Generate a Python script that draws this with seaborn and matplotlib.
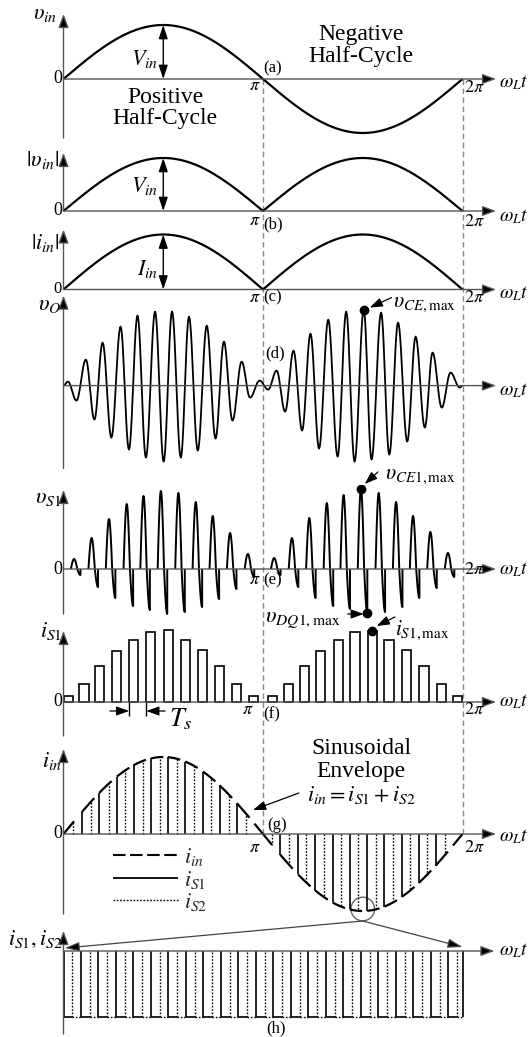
import numpy as np
import pandas as pd
import matplotlib
matplotlib.use("Agg")
import matplotlib.pyplot as plt
import seaborn as sns
from matplotlib.patches import Ellipse
from matplotlib.lines import Line2D

sns.set_theme(style="white")
plt.rcParams["font.family"] = ["Liberation Serif", "DejaVu Serif"]
plt.rcParams["mathtext.fontset"] = "stix"
plt.rcParams["lines.solid_capstyle"] = "butt"

PI = np.pi

# ---------------- waveform data (angles in units of pi) ----------------
V_in_peak = 54.0        # (a) input voltage amplitude
V_rect_peak = 53.0      # (b) rectified input voltage amplitude
I_in_peak = 55.0        # (c) rectified input current amplitude
I_env_peak = 77.0       # (g) sinusoidal envelope of i_in

# (d) successive extrema of the resonant output voltage v_O
vO_pos = [0.0, 0.022, 0.065, 0.112, 0.155, 0.196, 0.240, 0.286, 0.328, 0.371, 0.413,
          0.459, 0.502, 0.544, 0.588, 0.629, 0.673, 0.718, 0.762, 0.804, 0.847, 0.893,
          0.935, 0.983, 1.026, 1.068, 1.111, 1.153, 1.196, 1.238, 1.281, 1.327, 1.374,
          1.417, 1.459, 1.505, 1.544, 1.592, 1.633, 1.677, 1.723, 1.765, 1.811, 1.850,
          1.896, 1.940, 1.986, 2.0]
vO_val = [0, 4, -15, 26, -34, 43, -52, 59, -64, 70, -72, 74, -76, 74, -72, 69, -65, 60,
          -53, 44, -35, 24, -12, 5, -4, 15, -26, 35, -45, 52, -63, 66, -71, 74, -76, 76,
          -74, 73, -69, 63, -56, 49, -42, 33, -22, 13, -2, 0]

# (e) switch voltage v_S1: one lobe per switching period
vS1_start = [0.037, 0.125, 0.212, 0.301, 0.385, 0.472, 0.560, 0.647, 0.732, 0.819, 0.908,
             1.040, 1.129, 1.216, 1.304, 1.388, 1.475, 1.564, 1.651, 1.736, 1.823, 1.911]
vS1_peak = [10, 31, 50, 65, 73, 78, 76, 67, 53, 36, 15,
            11, 31, 51, 66, 74, 80, 76, 67, 53, 37, 16]
vS1_trough = [6, 18, 29, 37, 41, 45, 43, 38, 30, 20, 8,
              6, 18, 29, 37, 40, 44, 43, 38, 29, 19, 8]
vS1_width = 0.048

# (f) switch current pulses i_S1
iS1_start = [0.0, 0.080, 0.157, 0.244, 0.329, 0.415, 0.502, 0.587, 0.672, 0.759, 0.844, 0.930,
             1.023, 1.104, 1.187, 1.266, 1.355, 1.438, 1.525, 1.609, 1.697, 1.784, 1.870, 1.953]
iS1_height = [6, 18, 36, 51, 62, 70, 72, 62, 52, 36, 18, 6,
              6, 18, 36, 51, 62, 70, 71, 62, 52, 36, 18, 6]
iS1_width = 0.046

# (g) conduction instants of the two switches
gS1_pos = [0.092, 0.179, 0.268, 0.351, 0.438, 0.523, 0.610, 0.699, 0.783, 0.870,
           1.087, 1.176, 1.263, 1.349, 1.435, 1.522, 1.609, 1.697, 1.781, 1.865]
gS2_pos = [0.050, 0.137, 0.226, 0.309, 0.396, 0.482, 0.569, 0.652, 0.741, 0.828, 0.916,
           1.045, 1.132, 1.217, 1.304, 1.391, 1.477, 1.567, 1.652, 1.739, 1.823, 1.910]

# (h) magnified view near the negative peak
h_period = 0.0877
h_count = 23
h_end = 2.005
h_depth = 66.0

# ---------------- layout ----------------
W, H = 529, 1037
X0, PI_PX = 63.5, 199.5
XL = -X0 / PI_PX * PI
XR = (W - X0) / PI_PX * PI
X_TIP = 2.168 * PI          # tip of horizontal axis arrows

AX_C = "#555555"
fig = plt.figure(figsize=(W / 100, H / 100), dpi=100)
fig.patch.set_facecolor("white")

over = fig.add_axes([0, 0, 1, 1])
over.set_xlim(XL, XR)
over.set_ylim(H, 0)
over.axis("off")


def panel(top, bottom, base):
    ax = fig.add_axes([0, 1 - bottom / H, 1, (bottom - top) / H])
    ax.set_xlim(XL, XR)
    ax.set_ylim(base - bottom, base - top)
    ax.axis("off")
    ax.patch.set_alpha(0)
    return ax


def arrows(ax, ybot, ytop, xtip=X_TIP):
    st = "-|>,head_length=0.75,head_width=0.28"
    kw = dict(arrowstyle=st, color=AX_C, lw=1.0, mutation_scale=11,
              shrinkA=0, shrinkB=0)
    ax.annotate("", xy=(xtip, 0), xytext=(0, 0), annotation_clip=False,
                arrowprops=dict(fc="black", **kw))
    ax.annotate("", xy=(0, ytop), xytext=(0, ybot), annotation_clip=False,
                arrowprops=dict(fc="black", **kw))


def label(ax, x, y, s, size=16, ha="center", va="center", **kw):
    ax.text(x * PI, y, s, fontsize=size, ha=ha, va=va, color="black", **kw)


def omega(ax, y):
    label(ax, 2.185, y, r"$\omega_L t$", size=14, ha="left")


def dbl_arrow(ax, x, y0, y1):
    ax.annotate("", xy=(x * PI, y1), xytext=(x * PI, y0), annotation_clip=False,
                arrowprops=dict(arrowstyle="<|-|>,head_length=0.75,head_width=0.25",
                                color="black", lw=1.0, mutation_scale=11,
                                shrinkA=0, shrinkB=0))


def ann(ax, xy_from, xy_to):
    ax.annotate("", xy=(xy_to[0] * PI, xy_to[1]), xytext=(xy_from[0] * PI, xy_from[1]),
                annotation_clip=False,
                arrowprops=dict(arrowstyle="-|>,head_length=0.7,head_width=0.25",
                                color="black", lw=0.9, mutation_scale=11,
                                shrinkA=0, shrinkB=0))


theta = np.linspace(0, 2 * PI, 800)

# dashed guides at pi and 2pi
for xg in (PI, 2 * PI):
    over.plot([xg, xg], [79, 834], color="#8a8a8a", lw=1.0, dashes=(4, 2.5))

# ---------- (a) ----------
ax = panel(5, 142, 79)
arrows(ax, -59, 65)
sns.lineplot(x=theta, y=V_in_peak * np.sin(theta), ax=ax, color="black", lw=1.6)
dbl_arrow(ax, 0.5, 0, V_in_peak)
label(ax, -0.032, 64, r"$\upsilon_{in}$", ha="right")
label(ax, -0.008, 0, "0", size=13, ha="right")
label(ax, 0.477, 20, r"$V_{in}$", ha="right")
label(ax, 1.0, 11, "(a)", size=12, ha="left")
label(ax, 1.49, 44, "Negative", size=17)
label(ax, 1.49, 22, "Half-Cycle", size=17)
label(ax, 0.51, -19, "Positive", size=17)
label(ax, 0.51, -40, "Half-Cycle", size=17)
label(ax, 0.99, -7, r"$\pi$", size=13, ha="right")
label(ax, 2.007, -9, r"$2\pi$", size=13, ha="left")
omega(ax, -4)

# ---------- (b) ----------
ax = panel(145, 230, 211)
arrows(ax, 0, 58)
sns.lineplot(x=theta, y=V_rect_peak * np.abs(np.sin(theta)), ax=ax, color="black", lw=1.6)
dbl_arrow(ax, 0.5, 0, V_rect_peak)
label(ax, -0.02, 51, r"$|\upsilon_{in}|$", ha="right")
label(ax, -0.008, 0, "0", size=13, ha="right")
label(ax, 0.477, 25, r"$V_{in}$", ha="right")
label(ax, 0.99, -10, r"$\pi$", size=13, ha="right")
label(ax, 1.0, -13, "(b)", size=12, ha="left")
label(ax, 2.007, -11, r"$2\pi$", size=13, ha="left")
omega(ax, -6)

# ---------- (c) ----------
ax = panel(225, 305, 289.5)
arrows(ax, 0, 60)
sns.lineplot(x=theta, y=I_in_peak * np.abs(np.sin(theta)), ax=ax, color="black", lw=1.6)
dbl_arrow(ax, 0.5, 0, I_in_peak)
label(ax, -0.02, 47, r"$|i_{in}|$", ha="right")
label(ax, -0.008, 1, "0", size=12, ha="right")
label(ax, 0.477, 21, r"$I_{in}$", ha="right")
label(ax, 0.99, -8, r"$\pi$", size=13, ha="right")
label(ax, 1.0, -8, "(c)", size=12, ha="left")
label(ax, 2.007, -8, r"$2\pi$", size=13, ha="left")
omega(ax, -4)

# ---------- (d) ----------
ax = panel(290, 470, 385.6)
arrows(ax, -83, 90)
xs, ys = [], []
for k in range(len(vO_pos) - 1):
    t = np.linspace(0, 1, 14)[:-1]
    xs.append(vO_pos[k] + t * (vO_pos[k + 1] - vO_pos[k]))
    ys.append(vO_val[k] + (vO_val[k + 1] - vO_val[k]) * (1 - np.cos(PI * t)) / 2)
xs.append([vO_pos[-1]]); ys.append([vO_val[-1]])
vO = pd.DataFrame({"x": np.concatenate(xs) * PI, "y": np.concatenate(ys)})
sns.lineplot(data=vO, x="x", y="y", ax=ax, color="black", lw=1.3, sort=False, estimator=None)
i_max = int(np.argmax(vO_val))
ax.plot(vO_pos[i_max] * PI, vO_val[i_max], "o", color="black", ms=6)
label(ax, -0.012, 80, r"$\upsilon_O$", ha="right")
label(ax, 1.01, 32, "(d)", size=12, ha="left")
label(ax, 1.652, 81, r"$\upsilon_{CE,\mathrm{max}}$", size=15.5, ha="left")
ann(ax, (1.644, 88), (1.535, 78))
omega(ax, -5)

# ---------- (e) ----------
ax = panel(485, 625, 569)
arrows(ax, -45, 79)
for s0, hp, hn in zip(vS1_start, vS1_peak, vS1_trough):
    s = np.linspace(0, 1, 40)
    w = np.sin(1.5 * PI * s)
    y = np.where(w >= 0, hp * w, hn * w)
    x = (s0 + s * vS1_width) * PI
    ax.plot(np.append(x, x[-1]), np.append(y, 0), color="black", lw=1.4)
k6 = int(np.argmax(vS1_peak))
ax.plot((vS1_start[k6] + vS1_width / 3) * PI, vS1_peak[k6], "o", color="black", ms=6)
ax.plot((vS1_start[k6] + vS1_width) * PI, -vS1_trough[k6], "o", color="black", ms=6)
label(ax, -0.008, 70, r"$\upsilon_{S1}$", ha="right")
label(ax, -0.008, 0, "0", size=13, ha="right")
label(ax, 1.611, 92, r"$\upsilon_{CE1,\mathrm{max}}$", size=15.5, ha="left")
ann(ax, (1.576, 97), (1.510, 85))
label(ax, 0.99, -11, r"$\pi$", size=13, ha="right")
label(ax, 1.0, -11, "(e)", size=12, ha="left")
label(ax, 2.007, 0, r"$2\pi$", size=13, ha="left")
label(ax, 1.01, -52, r"$\upsilon_{DQ1,\mathrm{max}}$", size=16, ha="left")
ann(ax, (1.424, -45), (1.505, -45))
omega(ax, -1)

# ---------- (f) ----------
ax = panel(625, 740, 702)
arrows(ax, -34, 71)
widths = [iS1_width] * len(iS1_start)
ax.bar([p * PI for p in iS1_start], iS1_height, width=[w * PI for w in widths],
       align="edge", fill=False, edgecolor="black", lw=1.2)
ax.plot((iS1_start[18] + iS1_width / 2) * PI, iS1_height[18], "o", color="black", ms=6)
label(ax, 1.661, 72, r"$i_{S1,\mathrm{max}}$", size=15.5, ha="left")
ann(ax, (1.661, 85), (1.570, 76))
label(ax, -0.008, 71, r"$i_{S1}$", ha="right")
label(ax, -0.008, 0, "0", size=13, ha="right")
for p in (iS1_start[4], iS1_start[5]):
    ax.plot([p * PI, p * PI], [0, -14], color="black", lw=1.0)
ann(ax, (0.233, -9), (iS1_start[4], -9))
ann(ax, (0.509, -9), (iS1_start[5], -9))
label(ax, 0.53, -17, r"$T_s$", size=19, ha="left")
label(ax, 0.955, -7, r"$\pi$", size=13, ha="right")
label(ax, 1.0, -12, "(f)", size=12, ha="left")
label(ax, 2.007, -8, r"$2\pi$", size=13, ha="left")
omega(ax, 0)

# ---------- (g) ----------
ax = panel(745, 918, 834)
arrows(ax, -80, 85)
env = lambda p: I_env_peak * np.sin(np.asarray(p) * PI)
ax.vlines([p * PI for p in gS1_pos], 0, env(gS1_pos), color="black", lw=1.2)
ax.vlines([p * PI for p in gS2_pos], 0, env(gS2_pos), color="black", lw=1.0,
          linestyles=(0, (1.2, 1.2)))
dash_starts = [0.0] + gS1_pos[:10] + [0.957] + gS1_pos[10:] + [1.952]
dash_lens = [0.053] + [0.062] * 10 + [0.088] + [0.062] * 10 + [0.048]
for d0, dl in zip(dash_starts, dash_lens):
    pp = np.linspace(d0, d0 + dl, 20)
    ax.plot(pp * PI, env(pp), color="black", lw=1.6)
label(ax, -0.008, 73, r"$i_{in}$", ha="right")
label(ax, -0.008, 0, "0", size=13, ha="right")
label(ax, 1.491, 86, "Sinusoidal", size=17)
label(ax, 1.491, 63, "Envelope", size=17)
label(ax, 1.491, 39, r"$i_{in}=i_{S1}+i_{S2}$", size=16)
ann(ax, (1.18, 41), (0.95, 24))
label(ax, 1.02, 9, "(g)", size=12, ha="left")
label(ax, 0.99, -13, r"$\pi$", size=13, ha="right")
label(ax, 2.007, -13, r"$2\pi$", size=13, ha="left")
omega(ax, -3)
handles = [Line2D([], [], color="black", lw=1.5, dashes=(6, 2.2)),
           Line2D([], [], color="black", lw=1.3),
           Line2D([], [], color="black", lw=1.0, linestyle=(0, (1.2, 1.2)))]
ax.legend(handles, [r"$i_{in}$", r"$i_{S1}$", r"$i_{S2}$"], loc="upper left",
          bbox_to_anchor=(0.193, 0.48), frameon=False, fontsize=16, handlelength=2.9,
          handletextpad=0.3, labelspacing=0.02, borderpad=0)

# zoom marker
over.add_patch(Ellipse((1.5 * PI, 909), width=2 * 11.8 / PI_PX * PI, height=23.6,
                       fill=False, ec="#666666", lw=1.0))
for tip in ((0.0065, 948), (1.9995, 947)):
    over.annotate("", xy=(tip[0] * PI, tip[1]), xytext=(1.5 * PI, 921),
                  annotation_clip=False,
                  arrowprops=dict(arrowstyle="-|>,head_length=0.8,head_width=0.25",
                                  color="#444444", fc="black", lw=0.9, mutation_scale=11,
                                  shrinkA=0, shrinkB=0))

# ---------- (h) ----------
ax = panel(925, 1037, 951)
arrows(ax, -83, 20, xtip=2.16 * PI)
solid = np.arange(h_count) * h_period
dotted = solid + h_period / 2
ax.vlines(np.append(solid, h_end) * PI, -h_depth, 0, color="black", lw=1.2)
ax.vlines(dotted * PI, -h_depth, 0, color="black", lw=1.0, linestyles=(0, (1.2, 1.2)))
for a, b in zip(solid, dotted):
    ax.plot([a * PI, b * PI], [-h_depth, -h_depth], color="black", lw=1.2)
for a, b in zip(dotted, np.append(solid[1:], h_end)):
    ax.plot([a * PI, b * PI], [-h_depth, -h_depth], color="black", lw=1.0,
            linestyle=(0, (1.2, 1.2)))
label(ax, -0.005, 12, r"$i_{S1},i_{S2}$", ha="right")
label(ax, 1.065, -77, "(h)", size=12)
omega(ax, 0)

fig.savefig("out.png", dpi=100, facecolor="white")
